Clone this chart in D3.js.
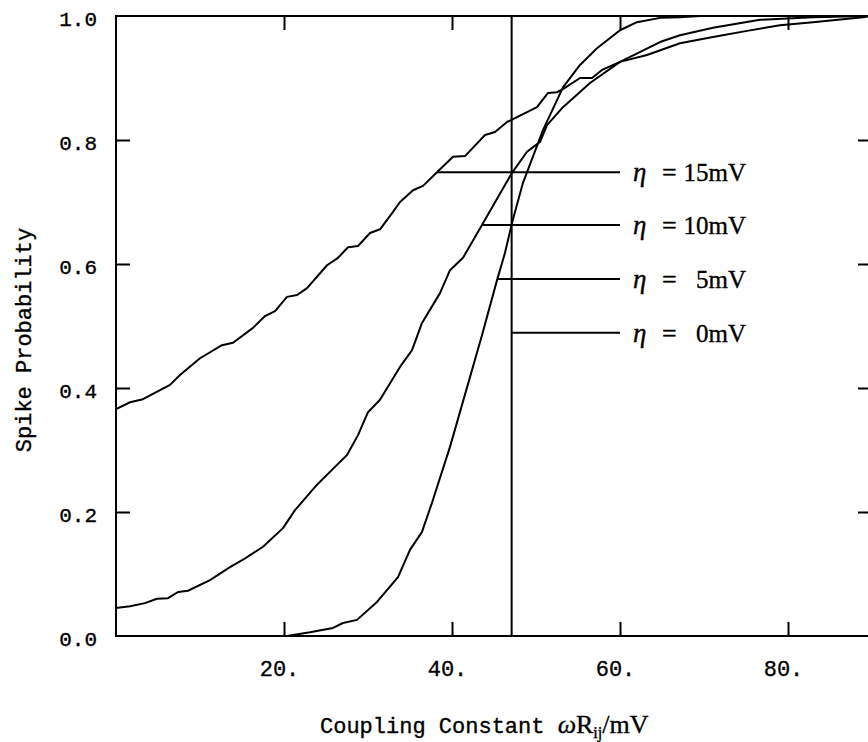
<!DOCTYPE html>
<html>
<head>
<meta charset="utf-8">
<script src="https://cdn.jsdelivr.net/npm/d3@7/dist/d3.min.js"></script>
<style>
  body { margin: 0; background: #fff; }
  .mono { font-family: "Liberation Mono", monospace; fill: #000; stroke: #000; stroke-width: 0.35; }
  .serif { font-family: "Liberation Serif", serif; fill: #000; stroke: #000; stroke-width: 0.35; }
</style>
</head>
<body>
<div id="vis"></div>
<script>
// curves: [coupling constant (mV), spike probability]
const eta15 = [
  [0, 0.366], [1.67, 0.377], [3.21, 0.382], [6.43, 0.405], [7.62, 0.421],
  [10.0, 0.448], [12.62, 0.469], [13.93, 0.473], [16.31, 0.497], [17.74, 0.516],
  [18.93, 0.524], [20.36, 0.547], [21.55, 0.550], [22.74, 0.561], [25.12, 0.598],
  [26.43, 0.610], [27.62, 0.627], [28.81, 0.629], [30.24, 0.650], [31.43, 0.656],
  [32.98, 0.684], [33.81, 0.700], [35.36, 0.719], [36.55, 0.726], [38.21, 0.748],
  [40.12, 0.773], [41.55, 0.774], [43.93, 0.808], [45.12, 0.813], [46.55, 0.829],
  [50.12, 0.853], [51.43, 0.876], [52.5, 0.877], [53.21, 0.882], [55.24, 0.900],
  [56.67, 0.900], [57.86, 0.913], [60.0, 0.926], [63.21, 0.937], [67.14, 0.956],
  [71.07, 0.966], [75.12, 0.976], [79.05, 0.985], [82.98, 0.990], [88.93, 0.998],
  [90, 1.0]
];
const eta10 = [
  [0, 0.045], [1.67, 0.048], [3.45, 0.053], [4.88, 0.060], [6.19, 0.061],
  [7.38, 0.071], [8.57, 0.073], [11.19, 0.090], [13.57, 0.111], [15.12, 0.123],
  [17.5, 0.144], [19.88, 0.174], [21.31, 0.203], [23.93, 0.244], [26.31, 0.276],
  [27.5, 0.292], [28.81, 0.324], [30.0, 0.361], [31.43, 0.381], [32.86, 0.413],
  [33.81, 0.434], [35.24, 0.461], [36.43, 0.505], [38.57, 0.553], [39.76, 0.590],
  [41.31, 0.610], [43.57, 0.663], [47.14, 0.747], [48.93, 0.781], [50.48, 0.797],
  [51.31, 0.824], [53.21, 0.853], [56.43, 0.892], [60.0, 0.926], [64.76, 0.958],
  [67.14, 0.969], [71.07, 0.981], [76.67, 0.994], [82.98, 0.998], [90, 1.0]
];
const eta5 = [
  [0, 0], [20.36, 0.0], [23.1, 0.006], [25.83, 0.013], [27.02, 0.021],
  [28.69, 0.026], [31.07, 0.055], [33.57, 0.095], [35.0, 0.139], [36.43, 0.168],
  [37.62, 0.215], [39.76, 0.305], [43.57, 0.485], [45.36, 0.574], [46.31, 0.618],
  [47.14, 0.666], [48.45, 0.731], [50.83, 0.816], [53.21, 0.885], [55.24, 0.921],
  [57.26, 0.948], [60.0, 0.977], [62.02, 0.990], [64.76, 0.997], [67.14, 0.998],
  [69.52, 1.0], [90, 1.0]
];
const eta0 = [[0, 0], [47.1, 0], [47.1, 1], [90, 1]];

// label leaders
const labelNums = ['15', '10', '5', '0'];
const leaderY = [0.748, 0.663, 0.576, 0.489];
const leaderStart = [38.2, 43.6, 45.4, 47.1];
const leaderEnd = 60;

const xTicks = [20, 40, 60, 80];
const xTickLabels = ['20.', '40.', '60.', '80.'];
const yTicks = [0, 0.2, 0.4, 0.6, 0.8, 1.0];
const yTickLabels = ['0.0', '0.2', '0.4', '0.6', '0.8', '1.0'];

const width = 868, height = 742;

const svg = d3.select('#vis').append('svg')
  .attr('width', width)
  .attr('height', height);

const x = d3.scaleLinear().domain([0, 90]).range([116, 872]);
const y = d3.scaleLinear().domain([0, 1]).range([636, 16]);

// frame
svg.append('rect')
  .attr('x', x(0)).attr('y', y(1))
  .attr('width', x(90) - x(0)).attr('height', y(0) - y(1))
  .attr('fill', 'none').attr('stroke', '#000').attr('stroke-width', 2);

function styleAxis(g) {
  g.select('.domain').remove();
  g.selectAll('.tick line').attr('stroke', '#000').attr('stroke-width', 2);
  g.attr('font-family', null).attr('font-size', null);
}

svg.append('g')
  .attr('transform', `translate(0,${y(0)})`)
  .call(d3.axisBottom(x).tickValues(xTicks).tickSize(-14).tickPadding(24)
    .tickFormat((d, i) => xTickLabels[i]))
  .call(styleAxis)
  .selectAll('text')
    .attr('class', 'mono')
    .attr('font-size', 22)
    .attr('dx', -5);

svg.append('g')
  .attr('transform', `translate(0,${y(1)})`)
  .call(d3.axisTop(x).tickValues(xTicks).tickSize(-14).tickFormat(''))
  .call(styleAxis);

svg.append('g')
  .attr('transform', `translate(${x(0)},0)`)
  .call(d3.axisLeft(y).tickValues(yTicks).tickSize(-14).tickPadding(19)
    .tickFormat((d, i) => yTickLabels[i]))
  .call(styleAxis)
  .selectAll('text')
    .attr('class', 'mono')
    .attr('font-size', 21)
    .attr('dy', '0.45em');

svg.append('g')
  .attr('transform', `translate(${x(90)},0)`)
  .call(d3.axisRight(y).tickValues(yTicks).tickSize(-14).tickFormat(''))
  .call(styleAxis);

// no separate ticks where the frame corners already are
svg.selectAll('.tick').filter(d => d === 0 || d === 1).select('line').remove();

// curves
const line = d3.line().x(d => x(d[0])).y(d => y(d[1]));
[eta15, eta10, eta5, eta0].forEach(s => {
  svg.append('path')
    .datum(s)
    .attr('d', line)
    .attr('fill', 'none')
    .attr('stroke', '#000')
    .attr('stroke-width', 2)
    .attr('stroke-linejoin', 'round');
});

// leaders and labels
leaderY.forEach((v, i) => {
  svg.append('line')
    .attr('x1', x(leaderStart[i])).attr('x2', x(leaderEnd))
    .attr('y1', y(v)).attr('y2', y(v))
    .attr('stroke', '#000').attr('stroke-width', 2);

  const base = y(v) + 9;
  svg.append('text')
    .attr('class', 'serif')
    .attr('x', 633).attr('y', base)
    .attr('font-size', 27)
    .attr('font-style', 'italic')
    .text('η');
  svg.append('text')
    .attr('class', 'serif')
    .attr('x', 662).attr('y', base)
    .attr('font-size', 26)
    .text('=');
  svg.append('text')
    .attr('class', 'serif')
    .attr('x', 746).attr('y', base)
    .attr('font-size', 25)
    .attr('text-anchor', 'end')
    .text(labelNums[i] + 'mV');
});

// axis titles
svg.append('text')
  .attr('class', 'mono')
  .attr('font-size', 22)
  .attr('transform', 'translate(31,340) rotate(-90)')
  .attr('text-anchor', 'middle')
  .text('Spike Probability');

const xt = svg.append('text')
  .attr('x', 320).attr('y', 733);
xt.append('tspan').attr('class', 'mono').attr('font-size', 22).text('Coupling Constant ');
xt.append('tspan').attr('class', 'serif').attr('font-size', 26).attr('font-style', 'italic').text('ω');
xt.append('tspan').attr('class', 'serif').attr('font-size', 26).text('R');
xt.append('tspan').attr('class', 'serif').attr('font-size', 16).attr('dy', 5).text('ij');
xt.append('tspan').attr('class', 'serif').attr('font-size', 26).attr('dy', -5).text('/mV');
</script>
</body>
</html>
